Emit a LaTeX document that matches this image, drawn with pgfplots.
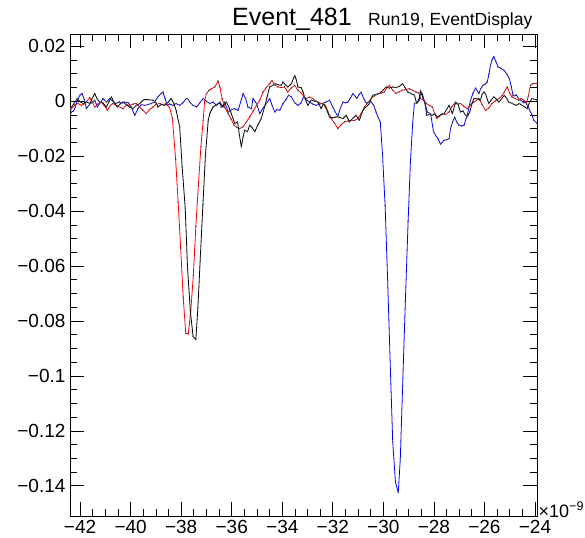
\documentclass[border=0pt]{standalone}
\usepackage{fontspec}
\setmainfont{Liberation Sans}
\usepackage{pgfplots}
\pgfplotsset{compat=1.18}

\begin{document}
\begin{tikzpicture}
\begin{axis}[
  scale only axis,
  width=467bp, height=482bp,
  xmin=-42.4, xmax=-23.92,
  ymin=-0.151, ymax=0.0245,
  xtick={-42,-40,...,-24},
  xticklabels={−42,−40,−38,−36,−34,−32,−30,−28,−26,−24},
  ytick={-0.14,-0.12,-0.1,-0.08,-0.06,-0.04,-0.02,0,0.02},
  yticklabels={−0.14,−0.12,−0.1,−0.08,−0.06,−0.04,−0.02,0,0.02},
  minor x tick num=3,
  minor y tick num=3,
  tick align=inside,
  major tick length=14bp,
  minor tick length=7bp,
  tick style={black, line width=0.7bp},
  axis line style={black, line width=0.9bp},
  ticklabel style={font=\fontsize{19bp}{22bp}\selectfont},
  xticklabel style={yshift=-1bp},
  yticklabel style={xshift=-1bp},
  scaled x ticks=false,
  /pgf/number format/assume math mode=true,
  every axis plot/.append style={line width=0.8bp, line join=round, mark=*, mark size=0.35bp, mark options={fill=black!70, draw=black!70}},
]
\coordinate (bl) at (rel axis cs:0,0);
\coordinate (tr) at (rel axis cs:1,1);
% blue
\addplot[color=blue] coordinates {
(-42.37,-0.0045) (-42.34,-0.0039) (-42.26,-0.0035) (-42.19,-0.0021) (-42.10,0.0005) (-42.01,0.0022)
(-41.92,0.0028) (-41.83,0.0005) (-41.75,-0.0027) (-41.66,-0.0015) (-41.55,-0.0005) (-41.42,0.0004)
(-41.32,-0.0021) (-41.20,-0.0005) (-41.09,0.0010) (-40.96,-0.0003) (-40.83,0.0010) (-40.70,0.0000)
(-40.57,-0.0008) (-40.45,-0.0002) (-40.37,-0.0008) (-40.24,-0.0003) (-40.10,-0.0005) (-39.97,-0.0021)
(-39.84,-0.0051) (-39.71,-0.0027) (-39.58,-0.0012) (-39.45,-0.0015) (-39.32,-0.0012) (-39.19,-0.0008)
(-39.05,-0.0002) (-38.92,0.0016) (-38.80,0.0028) (-38.72,0.0034) (-38.64,0.0010) (-38.55,-0.0015)
(-38.45,-0.0010) (-38.33,-0.0015) (-38.20,-0.0008) (-38.06,-0.0015) (-37.93,-0.0005) (-37.80,0.0010)
(-37.75,0.0010) (-37.64,-0.0005) (-37.53,-0.0015) (-37.39,-0.0021) (-37.26,-0.0005) (-37.13,0.0010)
(-37.00,0.0000) (-36.87,-0.0008) (-36.74,-0.0003) (-36.60,-0.0015) (-36.47,-0.0003) (-36.34,-0.0021)
(-36.28,-0.0003) (-36.14,-0.0039) (-36.00,-0.0030) (-35.88,-0.0027) (-35.75,-0.0033) (-35.62,0.0005)
(-35.55,0.0028) (-35.45,0.0010) (-35.36,-0.0021) (-35.22,-0.0027) (-35.16,0.0010) (-35.02,-0.0008)
(-34.89,-0.0045) (-34.76,-0.0025) (-34.63,-0.0008) (-34.50,0.0010) (-34.40,-0.0015) (-34.30,-0.0039)
(-34.20,-0.0030) (-34.10,-0.0033) (-33.97,-0.0008) (-33.86,0.0005) (-33.75,0.0022) (-33.64,0.0016)
(-33.51,-0.0005) (-33.38,-0.0015) (-33.25,-0.0005) (-33.16,0.0016) (-33.04,0.0005) (-32.92,-0.0003)
(-32.79,-0.0010) (-32.66,-0.0015) (-32.53,-0.0010) (-32.40,-0.0008) (-32.26,-0.0002) (-32.13,0.0004)
(-32.00,-0.0021) (-31.90,-0.0040) (-31.80,-0.0054) (-31.70,-0.0025) (-31.60,-0.0003) (-31.50,-0.0005)
(-31.41,-0.0003) (-31.31,0.0010) (-31.21,0.0028) (-31.13,0.0020) (-31.05,0.0010) (-30.96,0.0025)
(-30.88,0.0033) (-30.78,0.0010) (-30.68,-0.0006) (-30.58,-0.0002) (-30.48,-0.0003) (-30.38,-0.0015)
(-30.29,-0.0039) (-30.20,-0.0060) (-30.12,-0.0075) (-30.03,-0.0200) (-29.93,-0.0380) (-29.83,-0.0653)
(-29.72,-0.0980) (-29.63,-0.1239) (-29.52,-0.1388) (-29.41,-0.1424) (-29.33,-0.1303) (-29.24,-0.1043)
(-29.13,-0.0731) (-29.02,-0.0436) (-28.93,-0.0223) (-28.84,-0.0080) (-28.77,-0.0007) (-28.66,-0.0005)
(-28.53,0.0022) (-28.46,0.0028) (-28.36,-0.0005) (-28.26,-0.0039) (-28.13,-0.0045) (-28.02,-0.0109)
(-27.93,-0.0125) (-27.84,-0.0136) (-27.74,-0.0156) (-27.60,-0.0142) (-27.50,-0.0140) (-27.40,-0.0136)
(-27.34,-0.0099) (-27.26,-0.0075) (-27.18,-0.0057) (-27.10,-0.0075) (-27.01,-0.0087) (-26.90,-0.0090)
(-26.81,-0.0087) (-26.75,-0.0070) (-26.68,-0.0051) (-26.55,0.0004) (-26.45,0.0030) (-26.35,0.0048)
(-26.22,0.0028) (-26.15,0.0045) (-26.06,0.0058) (-25.98,0.0062) (-25.89,0.0070) (-25.82,0.0100)
(-25.76,0.0131) (-25.70,0.0150) (-25.63,0.0163) (-25.55,0.0145) (-25.46,0.0125) (-25.35,0.0120)
(-25.23,0.0113) (-25.12,0.0100) (-25.01,0.0082) (-24.94,0.0055) (-24.87,0.0022) (-24.80,0.0020)
(-24.74,0.0024) (-24.65,0.0010) (-24.55,0.0004) (-24.46,-0.0005) (-24.38,-0.0003) (-24.30,-0.0015)
(-24.21,-0.0033) (-24.12,-0.0050) (-24.05,-0.0069) (-23.92,-0.0080)
};
% red
\addplot[color=red] coordinates {
(-42.37,-0.0030) (-42.20,-0.0012) (-42.08,-0.0008) (-41.95,-0.0015) (-41.81,-0.0008) (-41.62,0.0013)
(-41.50,-0.0005) (-41.42,-0.0021) (-41.30,-0.0010) (-41.16,-0.0003) (-41.05,-0.0015) (-40.92,-0.0033)
(-40.80,-0.0015) (-40.70,-0.0008) (-40.50,-0.0018) (-40.30,-0.0027) (-40.15,-0.0012) (-40.04,-0.0015)
(-39.90,-0.0010) (-39.78,-0.0008) (-39.65,-0.0020) (-39.51,-0.0033) (-39.38,-0.0045) (-39.25,-0.0030)
(-39.12,-0.0021) (-39.00,-0.0012) (-38.85,-0.0008) (-38.72,-0.0012) (-38.59,-0.0008) (-38.46,-0.0023)
(-38.35,-0.0060) (-38.22,-0.0212) (-38.12,-0.0368) (-38.02,-0.0536) (-37.92,-0.0714) (-37.82,-0.0845)
(-37.72,-0.0847) (-37.62,-0.0762) (-37.52,-0.0635) (-37.42,-0.0455) (-37.32,-0.0307) (-37.22,-0.0165)
(-37.13,-0.0069) (-37.07,0.0004) (-37.00,0.0028) (-36.90,0.0040) (-36.80,0.0046) (-36.67,0.0052)
(-36.54,0.0074) (-36.47,0.0052) (-36.38,0.0010) (-36.28,-0.0021) (-36.14,-0.0045) (-36.02,-0.0065)
(-35.91,-0.0087) (-35.80,-0.0095) (-35.68,-0.0099) (-35.55,-0.0093) (-35.42,-0.0075) (-35.29,-0.0057)
(-35.15,-0.0035) (-35.02,-0.0015) (-34.89,0.0004) (-34.76,0.0034) (-34.63,0.0050) (-34.50,0.0064)
(-34.41,0.0076) (-34.30,0.0060) (-34.17,0.0052) (-34.04,0.0050) (-33.91,0.0052) (-33.78,0.0034)
(-33.65,0.0048) (-33.51,0.0058) (-33.38,0.0040) (-33.25,0.0030) (-33.12,0.0015) (-33.05,0.0010)
(-32.92,0.0015) (-32.79,0.0010) (-32.66,0.0000) (-32.53,-0.0006) (-32.40,-0.0008) (-32.29,-0.0015)
(-32.18,-0.0040) (-32.06,-0.0063) (-31.93,-0.0080) (-31.80,-0.0099) (-31.67,-0.0085) (-31.54,-0.0075)
(-31.40,-0.0072) (-31.27,-0.0069) (-31.14,-0.0070) (-31.01,-0.0063) (-30.88,-0.0045) (-30.75,-0.0021)
(-30.62,-0.0005) (-30.48,0.0010) (-30.35,0.0020) (-30.22,0.0028) (-30.09,0.0030) (-29.96,0.0034)
(-29.86,0.0050) (-29.76,0.0058) (-29.63,0.0040) (-29.50,0.0028) (-29.37,0.0035) (-29.24,0.0040)
(-29.10,0.0043) (-28.97,0.0046) (-28.84,0.0040) (-28.71,0.0034) (-28.60,0.0030) (-28.53,0.0010)
(-28.41,0.0005) (-28.29,-0.0008) (-28.18,-0.0015) (-28.06,-0.0021) (-27.97,-0.0045) (-27.89,-0.0063)
(-27.78,-0.0055) (-27.67,-0.0045) (-27.54,-0.0048) (-27.40,-0.0039) (-27.29,-0.0020) (-27.18,-0.0008)
(-27.06,-0.0010) (-26.95,-0.0008) (-26.82,-0.0018) (-26.68,-0.0027) (-26.55,-0.0012) (-26.42,-0.0003)
(-26.22,0.0010) (-26.09,-0.0012) (-25.96,-0.0033) (-25.83,-0.0025) (-25.70,-0.0008) (-25.56,0.0002)
(-25.43,0.0010) (-25.31,0.0020) (-25.21,0.0034) (-25.10,0.0052) (-25.00,0.0030) (-24.91,0.0016)
(-24.78,0.0010) (-24.64,0.0004) (-24.55,0.0010) (-24.44,0.0004) (-24.34,-0.0008) (-24.26,0.0020)
(-24.18,0.0058) (-24.10,0.0064) (-23.92,0.0066)
};
% black
\addplot[color=black] coordinates {
(-42.37,-0.0025) (-42.34,-0.0021) (-42.22,-0.0005) (-42.11,0.0010) (-42.00,-0.0002) (-41.88,-0.0008)
(-41.75,-0.0002) (-41.62,-0.0008) (-41.52,0.0010) (-41.42,0.0028) (-41.32,0.0008) (-41.22,-0.0003)
(-41.10,-0.0005) (-40.96,-0.0021) (-40.86,-0.0002) (-40.76,0.0016) (-40.65,-0.0005) (-40.53,-0.0021)
(-40.42,-0.0010) (-40.30,-0.0003) (-40.17,-0.0012) (-40.04,-0.0021) (-39.91,-0.0027) (-39.78,-0.0015)
(-39.64,-0.0008) (-39.55,0.0000) (-39.47,0.0006) (-39.30,0.0006) (-39.12,0.0004) (-39.00,-0.0005)
(-38.92,-0.0021) (-38.80,-0.0012) (-38.66,-0.0015) (-38.53,-0.0005) (-38.40,0.0010) (-38.29,-0.0008)
(-38.20,-0.0033) (-38.06,-0.0093) (-37.96,-0.0241) (-37.84,-0.0390) (-37.75,-0.0605) (-37.64,-0.0762)
(-37.53,-0.0856) (-37.42,-0.0868) (-37.34,-0.0752) (-37.24,-0.0563) (-37.14,-0.0375) (-37.04,-0.0196)
(-36.93,-0.0069) (-36.87,-0.0045) (-36.74,-0.0021) (-36.60,-0.0012) (-36.47,-0.0006) (-36.41,-0.0021)
(-36.30,-0.0010) (-36.21,-0.0003) (-36.12,-0.0020) (-36.04,-0.0039) (-35.96,-0.0060) (-35.88,-0.0081)
(-35.77,-0.0075) (-35.70,-0.0120) (-35.62,-0.0166) (-35.55,-0.0130) (-35.49,-0.0105) (-35.38,-0.0111)
(-35.29,-0.0087) (-35.20,-0.0095) (-35.09,-0.0111) (-34.96,-0.0085) (-34.83,-0.0063) (-34.70,-0.0021)
(-34.60,0.0015) (-34.50,0.0052) (-34.38,0.0058) (-34.27,0.0064) (-34.15,0.0060) (-34.04,0.0058)
(-33.97,0.0070) (-33.88,0.0060) (-33.78,0.0052) (-33.64,0.0064) (-33.51,0.0094) (-33.45,0.0080)
(-33.38,0.0052) (-33.25,0.0050) (-33.18,0.0035) (-33.12,0.0016) (-32.99,-0.0015) (-32.85,0.0004)
(-32.72,0.0000) (-32.59,-0.0003) (-32.46,-0.0027) (-32.37,-0.0008) (-32.25,-0.0030) (-32.13,-0.0057)
(-32.00,-0.0060) (-31.87,-0.0057) (-31.74,-0.0058) (-31.60,-0.0063) (-31.47,-0.0051) (-31.34,-0.0075)
(-31.21,-0.0062) (-31.08,-0.0051) (-30.95,-0.0069) (-30.81,-0.0033) (-30.68,-0.0020) (-30.55,-0.0008)
(-30.42,0.0022) (-30.29,0.0025) (-30.16,0.0028) (-30.02,0.0040) (-29.89,0.0052) (-29.76,0.0048)
(-29.63,0.0052) (-29.50,0.0050) (-29.37,0.0054) (-29.24,0.0064) (-29.14,0.0050) (-29.04,0.0034)
(-28.90,0.0028) (-28.77,0.0022) (-28.68,-0.0008) (-28.58,0.0004) (-28.53,0.0040) (-28.43,0.0010)
(-28.33,-0.0015) (-28.29,-0.0051) (-28.18,-0.0048) (-28.06,-0.0051) (-27.97,-0.0045) (-27.87,-0.0057)
(-27.74,-0.0050) (-27.60,-0.0045) (-27.50,-0.0030) (-27.40,-0.0015) (-27.27,-0.0045) (-27.14,-0.0003)
(-27.05,-0.0010) (-26.95,-0.0039) (-26.85,-0.0035) (-26.75,-0.0051) (-26.67,-0.0055) (-26.58,-0.0039)
(-26.50,-0.0010) (-26.42,0.0010) (-26.30,0.0010) (-26.16,0.0004) (-26.09,0.0025) (-26.02,0.0034)
(-25.95,0.0025) (-25.83,-0.0008) (-25.73,0.0005) (-25.63,0.0016) (-25.53,0.0008) (-25.43,-0.0003)
(-25.33,0.0008) (-25.21,0.0022) (-25.12,0.0010) (-25.04,-0.0003) (-24.90,-0.0008) (-24.74,-0.0015)
(-24.62,-0.0008) (-24.51,-0.0015) (-24.41,-0.0020) (-24.31,-0.0027) (-24.22,-0.0005) (-24.12,0.0010)
(-23.92,0.0005)
};
\end{axis}
% titles
\node[anchor=base, font=\fontsize{25bp}{29bp}\selectfont] at ([shift={(222bp,8bp)}]tr -| bl) {Event\_481};
\node[anchor=base east, font=\fontsize{17.6bp}{21bp}\selectfont] at ([shift={(-1bp,8bp)}]tr) {Run19, EventDisplay};
\node[anchor=base west, font=\fontsize{18bp}{21bp}\selectfont, inner sep=0pt] at ([shift={(1.5bp,-1bp)}]bl -| tr) {×10\raisebox{7bp}{\fontsize{12.5bp}{14bp}\selectfont −9}};
\pgfresetboundingbox
\path ([shift={(-70bp,-22bp)}]bl) rectangle ([shift={(48bp,34bp)}]tr);
\end{tikzpicture}
\end{document}
